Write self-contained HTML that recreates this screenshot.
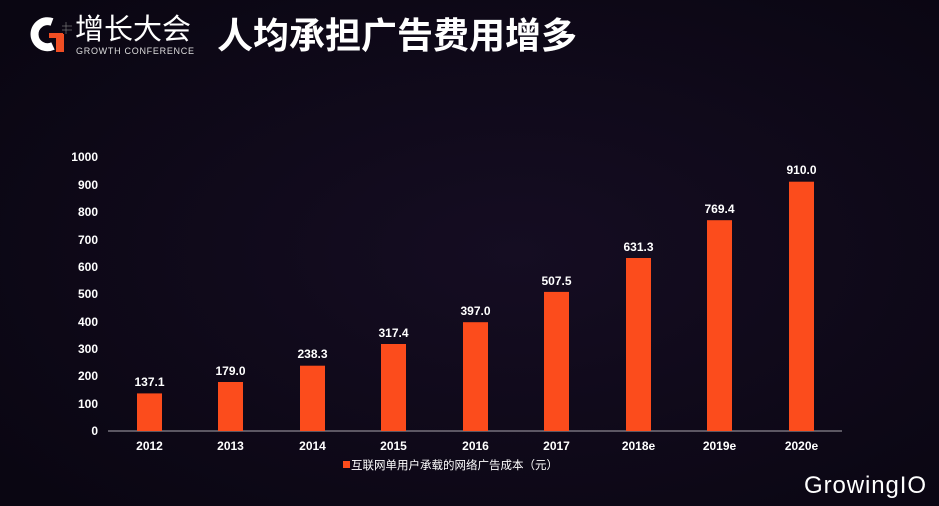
<!DOCTYPE html>
<html><head><meta charset="utf-8"><style>
html,body{margin:0;padding:0;background:#0d0816;}
svg{display:block;}
text{font-family:"Liberation Sans","Noto Sans CJK SC",sans-serif;}
</style></head><body>
<svg width="939" height="506" viewBox="0 0 939 506" xmlns="http://www.w3.org/2000/svg">
<defs><radialGradient id="bg" cx="0.55" cy="0.5" r="0.7"><stop offset="0" stop-color="#150d22"/><stop offset="1" stop-color="#0a0612"/></radialGradient></defs>
<rect width="939" height="506" fill="url(#bg)"/>
<path d="M52 22 A13 13 0 1 0 53 46" fill="none" stroke="#fff" stroke-width="8"/>
<rect x="56" y="34" width="8" height="18" fill="#f04e23"/>
<rect x="49" y="33" width="14" height="5" fill="#f04e23"/>
<g stroke="#888" stroke-width="0.6"><line x1="62" y1="26" x2="72" y2="26"/><line x1="62" y1="30" x2="72" y2="30"/><line x1="66" y1="22" x2="66" y2="34"/></g>
<text x="75" y="39" fill="#fff" font-size="29">增长大会</text>
<text x="76" y="54" fill="#ddd" font-size="9" textLength="118">GROWTH CONFERENCE</text>
<text x="217" y="48" fill="#fff" font-size="36" font-weight="bold">人均承担广告费用增多</text>
<g fill="#fff" font-size="12" font-weight="bold" text-anchor="end">
<text x="98" y="435">0</text><text x="98" y="408">100</text><text x="98" y="380">200</text><text x="98" y="353">300</text><text x="98" y="326">400</text><text x="98" y="298">500</text><text x="98" y="271">600</text><text x="98" y="244">700</text><text x="98" y="216">800</text><text x="98" y="189">900</text><text x="98" y="161">1000</text>
</g>
<line x1="108" y1="431" x2="842" y2="431" stroke="#8a8690" stroke-width="1.2"/>
<g fill="#fc4c1c">
<rect x="137" y="393.4" width="25" height="37.6"/>
<rect x="218" y="382" width="25" height="49"/>
<rect x="300" y="365.7" width="25" height="65.3"/>
<rect x="381" y="344" width="25" height="87"/>
<rect x="463" y="322.2" width="25" height="108.8"/>
<rect x="544" y="291.9" width="25" height="139.1"/>
<rect x="626" y="258" width="25" height="173"/>
<rect x="707" y="220.2" width="25" height="210.8"/>
<rect x="789" y="181.7" width="25" height="249.3"/>
</g>
<g fill="#fff" font-size="12" font-weight="bold" text-anchor="middle">
<text x="149.5" y="386">137.1</text>
<text x="230.5" y="375">179.0</text>
<text x="312.5" y="358">238.3</text>
<text x="393.5" y="337">317.4</text>
<text x="475.5" y="315">397.0</text>
<text x="556.5" y="285">507.5</text>
<text x="638.5" y="251">631.3</text>
<text x="719.5" y="213">769.4</text>
<text x="801.5" y="174">910.0</text>
</g>
<g fill="#fff" font-size="12" font-weight="bold" text-anchor="middle">
<text x="149.5" y="450">2012</text><text x="230.5" y="450">2013</text><text x="312.5" y="450">2014</text><text x="393.5" y="450">2015</text><text x="475.5" y="450">2016</text><text x="556.5" y="450">2017</text><text x="638.5" y="450">2018e</text><text x="719.5" y="450">2019e</text><text x="801.5" y="450">2020e</text>
</g>
<rect x="343" y="461" width="7" height="7" fill="#fc4c1c"/>
<text x="351" y="469" fill="#fff" font-size="11.5">互联网单用户承载的网络广告成本（元）</text>
<text x="804" y="493" fill="#fff" font-size="24" textLength="122">GrowingIO</text>
</svg>
</body></html>
